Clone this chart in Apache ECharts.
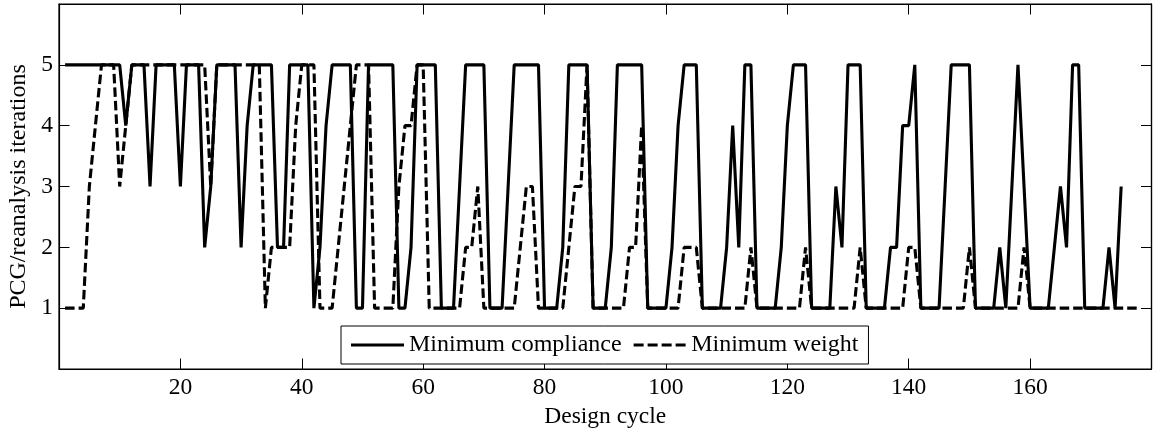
<!DOCTYPE html>
<html><head><meta charset="utf-8">
<script src="https://cdn.jsdelivr.net/npm/echarts@6/dist/echarts.min.js"></script>
<style>html,body{margin:0;padding:0;background:#fff}#c{width:1153px;height:432px}</style>
</head><body><div id="c"></div>
<script>
// Design cycle numbering starts at 1
const complianceIters = [
 5,5,5,5,5,5,5,5,5,5,
 4,5,5,5,3,5,5,5,5,3,
 5,5,5,2,3,5,5,5,5,2,
 4,5,5,5,5,2,2,5,5,5,
 5,1,2,4,5,5,5,5,1,1,
 5,5,5,5,5,1,1,2,5,5,
 5,5,1,1,1,3,5,5,5,5,
 1,1,1,3,5,5,5,5,5,1,
 1,1,2,5,5,5,5,1,1,1,
 2,5,5,5,5,5,1,1,1,1,
 2,4,5,5,5,1,1,1,1,2,
 4,2,5,5,1,1,1,1,2,4,
 5,5,5,1,1,1,1,3,2,5,
 5,5,1,1,1,1,2,2,4,4,
 5,1,1,1,1,3,5,5,5,5,
 1,1,1,1,2,1,3,5,3,1,
 1,1,1,2,3,2,5,5,1,1,
 1,1,2,1,3
];
const weightIters = [
 1,1,1,1,3,4,5,5,5,3,
 4,5,5,5,5,5,5,5,5,5,
 5,5,5,5,3,5,5,5,5,5,
 5,5,5,1,2,2,2,2,4,5,
 5,5,1,1,1,2,3,4,5,5,
 5,1,1,1,1,3,4,4,5,5,
 1,1,1,1,1,1,2,2,3,1,
 1,1,1,1,1,2,3,3,1,1,
 1,1,1,2,3,3,5,1,1,1,
 1,1,1,2,2,4,1,1,1,1,
 1,1,2,2,2,1,1,1,1,1,
 1,1,1,2,1,1,1,1,1,1,
 1,1,2,1,1,1,1,1,1,1,
 1,2,1,1,1,1,1,1,1,2,
 2,1,1,1,1,1,1,1,1,2,
 1,1,1,1,1,1,1,1,2,1,
 1,1,1,1,1,1,1,1,1,1,
 1,1,1,1,1,1,1,1
];
const xTicks = [20, 40, 60, 80, 100, 120, 140, 160];
const yTicks = [1, 2, 3, 4, 5];
const seriesNames = ['Minimum compliance', 'Minimum weight'];
const xTitle = 'Design cycle';
const yTitle = 'PCG/reanalysis iterations';

const FONT = "'Liberation Serif', 'Times New Roman', serif";
const FS = 23.5;
const toPairs = arr => arr.map((v, i) => [i + 1, v]);

const mkTick = () => ({show: true, inside: true, length: 10.5, lineStyle: {color: '#000', width: 1}});
const mkLine = () => ({show: true, onZero: false, lineStyle: {color: '#000', width: 1.2}});

const chart = echarts.init(document.getElementById('c'), null, {renderer: 'canvas'});
chart.setOption({
  animation: false,
  backgroundColor: '#fff',
  grid: {left: 59, right: 1.5, top: 4, bottom: 63, containLabel: false, outerBoundsMode: 'none',
         show: true, borderColor: '#000', borderWidth: 1.2, backgroundColor: 'transparent'},
  xAxis: [{
    type: 'value', min: 0, max: 180, interval: 20, position: 'bottom',
    name: xTitle, nameLocation: 'middle', nameGap: 22,
    nameTextStyle: {fontFamily: FONT, fontSize: FS, color: '#000'},
    axisLine: mkLine(), axisTick: mkTick(), splitLine: {show: false}, minorTick: {show: false},
    axisLabel: {fontFamily: FONT, fontSize: FS, color: '#000', margin: 7,
      formatter: v => xTicks.includes(v) ? String(v) : ''}
  }, {
    type: 'value', min: 0, max: 180, interval: 20, position: 'top',
    axisLine: mkLine(), axisTick: mkTick(), splitLine: {show: false}, axisLabel: {show: false}
  }],
  yAxis: [{
    type: 'value', min: 0, max: 6, interval: 1, position: 'left',
    name: yTitle, nameLocation: 'middle', nameGap: 24, nameRotate: 90,
    nameTextStyle: {fontFamily: FONT, fontSize: 24, color: '#000'},
    axisLine: mkLine(), axisTick: mkTick(), splitLine: {show: false},
    axisLabel: {fontFamily: FONT, fontSize: FS, color: '#000', margin: 6,
      formatter: v => yTicks.includes(v) ? String(v) : ''}
  }, {
    type: 'value', min: 0, max: 6, interval: 1, position: 'right',
    axisLine: mkLine(), axisTick: mkTick(), splitLine: {show: false}, axisLabel: {show: false}
  }],
  legend: {
    left: 341, top: 326, orient: 'horizontal',
    itemWidth: 53, itemHeight: 3, itemGap: 12,
    padding: [7, 10, 7, 10],
    borderColor: '#000', borderWidth: 1, backgroundColor: '#fff',
    itemStyle: {borderWidth: 0},
    textStyle: {fontFamily: FONT, fontSize: 24, color: '#000'},
    data: [
      {name: seriesNames[0], icon: 'path://M0,0H53V3H0Z'},
      {name: seriesNames[1], icon: 'path://M0,0H10V3H0Z M14,0H24V3H14Z M28,0H38V3H28Z M42,0H52V3H42Z'}
    ]
  },
  series: [{
    name: seriesNames[0], type: 'line', symbol: 'none', showSymbol: false,
    data: toPairs(complianceIters),
    lineStyle: {color: '#000', width: 3.1, type: 'solid'},
    itemStyle: {color: '#000'}
  }, {
    name: seriesNames[1], type: 'line', symbol: 'none', showSymbol: false,
    data: toPairs(weightIters),
    lineStyle: {color: '#000', width: 3.1, type: [9.5, 4]},
    itemStyle: {color: '#000'}
  }]
});
</script></body></html>
